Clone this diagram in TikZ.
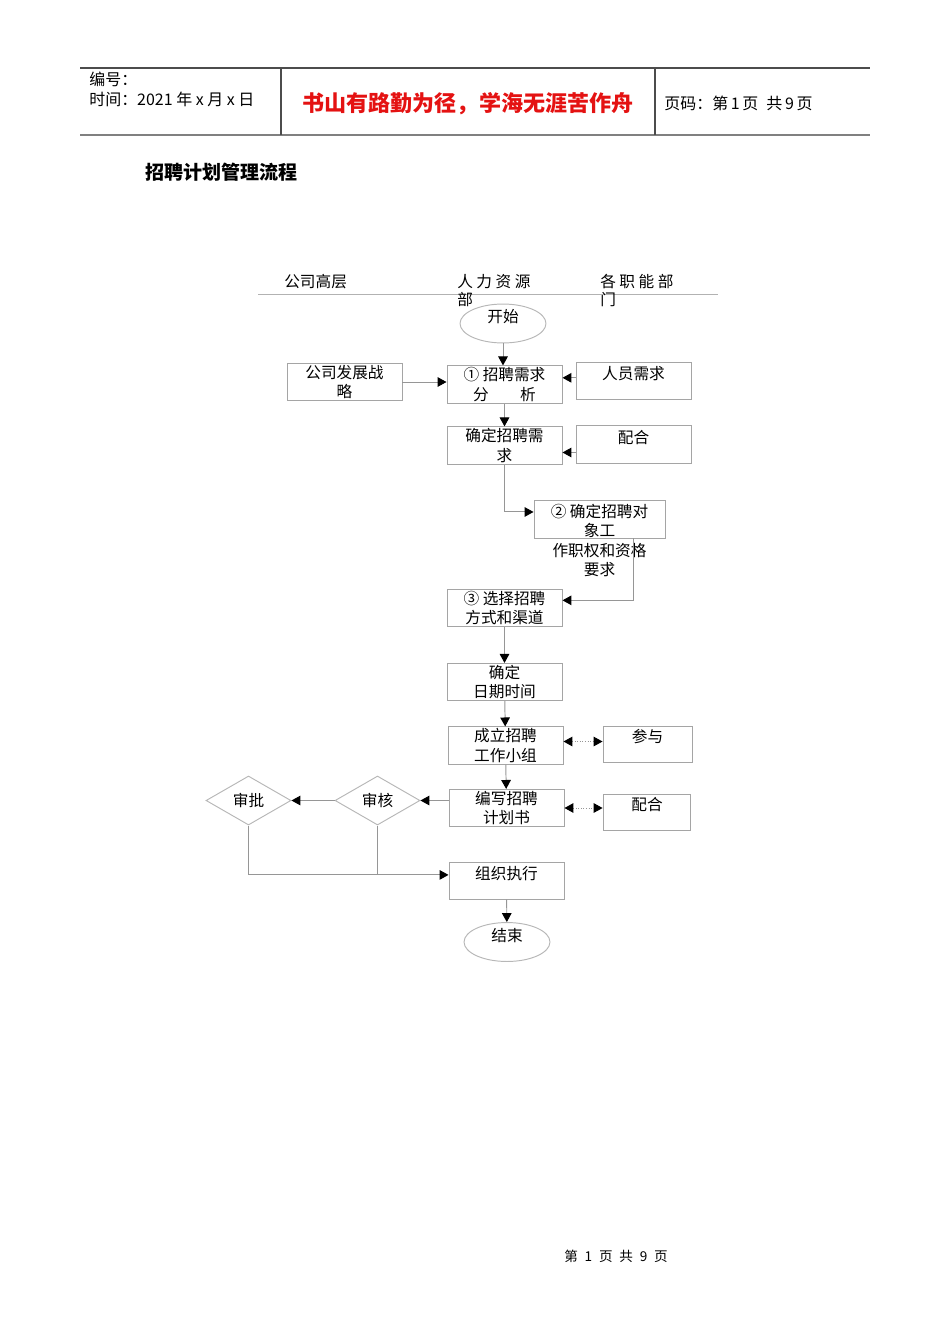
\documentclass[tikz,border=0pt]{standalone}
\usepackage{fontspec}
\setmainfont{Noto Sans CJK SC}
\usetikzlibrary{arrows.meta,shapes.geometric}
\definecolor{mottored}{RGB}{228,18,18}
\definecolor{boxgray}{RGB}{165,165,165}
\definecolor{linegray}{RGB}{150,150,150}

\begin{document}
\begin{tikzpicture}[x=0.626pt, y=-0.626pt]
 \tikzset{
chart font/.style = {font=\fontsize{9.8}{12.2}\selectfont},
head font/.style = {font=\fontsize{10}{12}\selectfont},
proc/.style = {rectangle, draw=boxgray, line width=0.6pt, minimum width=72pt, minimum height=23.2pt, inner sep=1pt, align=center, chart font},
top text/.style = {text depth=9.8pt},
terminal/.style = {ellipse, draw=boxgray!80, line width=0.6pt, minimum width=53.8pt, minimum height=20.7pt, inner sep=0pt, text depth=9pt, chart font},
check/.style = {diamond, draw=boxgray!80, line width=0.6pt, minimum width=53.2pt, minimum height=30.7pt, inner sep=0pt, chart font},
flow/.style = {draw=linegray, line width=0.6pt, -{Triangle[length=5.6pt,width=6pt,color=black]}},
link/.style = {draw=linegray, line width=0.6pt, densely dotted, {Triangle[length=5.6pt,width=6pt,color=black]}-{Triangle[length=5.6pt,width=6pt,color=black]}},
lane/.style = {anchor=north west, align=left, inner sep=0pt, font=\fontsize{9.8}{11.3}\selectfont}}

    \useasboundingbox (0,0) rectangle (950,1344);

    % page header
    \draw [black!70, line width=0.8pt] (80,68) -- (870,68);
    \draw [black!50, line width=1.4pt] (80,135) -- (870,135);
    \draw [black!70, line width=0.8pt] (281,68) -- (281,135) (655,68) -- (655,135);
    \node [head font, anchor=west, inner sep=0pt] (serial) at (89,79) {编号：};
    \node [head font, anchor=west, inner sep=0pt] (when) at (89,99) {时间：2021 年 x 月 x 日};
    \node [font=\fontsize{13.8}{16}\selectfont\bfseries, text=mottored, inner sep=0pt] (motto) at (468,104) {书山有路勤为径，学海无涯苦作舟};
    \node [head font, anchor=west, inner sep=0pt] (pageno) at (664,103) {页码：第\,1\,页\enspace 共\,9\,页};

    \node [font=\fontsize{11.9}{14}\selectfont\bfseries, anchor=west, inner sep=0pt] (title) at (145,172) {招聘计划管理流程};

    % lanes
    \draw [black!30, line width=0.6pt] (258,294) -- (718,294);
    \node [lane] (lane1) at (284,274) {公司高层};
    \node [lane] (lane2) at (457,274) {人 力 资 源\\部};
    \node [lane] (lane3) at (600,274) {各 职 能 部\\门};

    \node [terminal] (start) at (503,323.5) {开始};
    \node [proc] (strat) at (344.5,382) {公司发展战\\略};
    \node [proc] (anl) at (504.5,384.5) {① 招聘需求\\分　　析};
    \node [proc, top text] (staff) at (633.5,381) {人员需求};
    \node [proc] (need) at (504.5,445.5) {确定招聘需\\求};
    \node [proc, top text] (coop1) at (633.5,444.5) {配合};
    \node [proc] (obj) [minimum width=82pt, minimum height=23.8pt] at (599.5,519) {};
    \node [chart font, align=center, anchor=north, inner sep=0pt] (objtext) at ([yshift=-2.5pt]obj.north) {② 确定招聘对\\象工\\作职权和资格\\要求};
    \node [proc] (chan) at (504.5,608) {③ 选择招聘\\方式和渠道};
    \node [proc] (date) at (504.5,682) {确定\\日期时间};
    \node [proc] (team) [minimum height=22.5pt] at (505.5,745.5) {成立招聘\\工作小组};
    \node [proc, top text] (join) [minimum width=55.7pt, minimum height=22.5pt] at (647.5,744) {参与};
    \node [proc] (plan) at (506.5,808) {编写招聘\\计划书};
    \node [proc, top text] (coop2) [minimum width=55pt, minimum height=22.5pt] at (647,812) {配合};
    \node [check] (audit) at (377.5,800.5) {审核};
    \node [check] (apprv) at (248.5,800.5) {审批};
    \node [proc, top text] (exec) at (506.5,880.5) {组织执行};
    \node [terminal] (end) at (507,942) {结束};
    \coordinate (execin) at ([yshift=3.5pt]exec.west);

    \draw [flow] (start.south) -- (start.south |- anl.north);
    \draw [flow] (strat.east) -- (strat.east -| anl.west);
    \draw [flow] ([yshift=2pt]staff.west) -- ([yshift=2pt]staff.west -| anl.east);
    \draw [flow] (anl) -- (need);
    \draw [flow] ([yshift=-5pt]coop1.west) -- ([yshift=-5pt]coop1.west -| need.east);
    \draw [flow] (need.south) |- ([yshift=4.4pt]obj.west);
    \draw [flow] ([xshift=21pt]obj.south) |- ([yshift=4.8pt]chan.east);
    \draw [flow] (chan) -- (date);
    \draw [flow] (date) -- (team);
    \draw [flow] (team) -- (plan);
    \draw [link] ([yshift=2.5pt]team.east) -- ([yshift=2.5pt]team.east -| join.west);
    \draw [link] (plan.east) -- (plan.east -| coop2.west);
    \draw [flow] (plan.west |- audit.east) -- (audit.east);
    \draw [flow] (audit.west) -- (apprv.east);
    \draw [flow] (apprv.south) |- (execin);
    \draw [draw=linegray, line width=0.6pt] (audit.south) -- (audit.south |- execin);
    \draw [flow] (exec) -- (end);

    \node [font=\fontsize{8.5}{10}\selectfont] (foot) at (616,1256) {第\enspace 1\enspace 页\enspace 共\enspace 9\enspace 页};

  \end{tikzpicture}
\end{document}
